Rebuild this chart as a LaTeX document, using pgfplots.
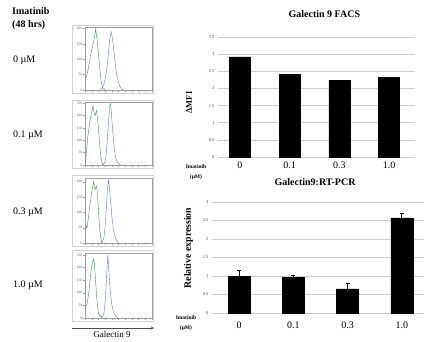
\documentclass[border=0pt]{standalone}
\usepackage{pgfplots}
\pgfplotsset{compat=1.18}
\usepackage{fontspec}
\setmainfont{Liberation Serif}
\definecolor{hgreen}{RGB}{70,140,80}
\definecolor{hblue}{RGB}{95,125,200}
\pgfplotsset{
 hist/.style={scale only axis, anchor=south west, width=67pt, xmin=0, xmax=100, ymin=0,
   axis line style={gray!75, line width=0.35pt}, tick style={gray!75, line width=0.3pt},
   xtick={0,10,20,30,40,50,60,70,80,90,100}, minor x tick num=3, xticklabels={},
   major tick length=2pt, minor tick length=1.2pt, tick align=outside,
   xtick pos=bottom, ytick pos=left,
   yticklabel style={font=\fontsize{3.5}{4}\selectfont, text=gray!70!black, inner sep=0.8pt},
   /pgf/number format/assume math mode=true,
   every axis plot/.append style={line width=0.4pt, mark=none}},
 bars/.style={scale only axis, anchor=south west, ybar, ymin=0,
   xtick={0,1,2,3}, xticklabels={0,0.1,0.3,1.0},
   ymajorgrids, grid style={gray!40, line width=0.45pt},
   axis line style={draw=none}, major tick length=0pt,
   xticklabel style={font=\fontsize{10}{12}\selectfont},
   yticklabel style={font=\fontsize{4.5}{5}\selectfont, text=gray!60!black},
   title style={font=\bfseries\fontsize{10}{12}\selectfont, anchor=south},
   ylabel style={anchor=center},
   /pgf/number format/assume math mode=true}
}
\begin{document}
\begin{tikzpicture}[x=1pt,y=1pt]
\path[use as bounding box] (0,0) rectangle (425,341);
% left texts
\node[anchor=north west, align=left, font=\bfseries\fontsize{10}{13}\selectfont, inner sep=0] at (12,334) {Imatinib\\(48 hrs)};
\node[anchor=west, font=\fontsize{10}{12}\selectfont, inner sep=0] at (13,281) {0 µM};
\node[anchor=west, font=\fontsize{10}{12}\selectfont, inner sep=0] at (13,206) {0.1 µM};
\node[anchor=west, font=\fontsize{10}{12}\selectfont, inner sep=0] at (13,129) {0.3 µM};
\node[anchor=west, font=\fontsize{10}{12}\selectfont, inner sep=0] at (13,56) {1.0 µM};
% outer frames
\draw[gray!35, line width=0.4pt] (72,248) rectangle (153,316);
\draw[gray!35, line width=0.4pt] (72,173) rectangle (153,241);
\draw[gray!35, line width=0.4pt] (72,95) rectangle (153,166);
\draw[gray!35, line width=0.4pt] (72,20) rectangle (153,91);
% panel 0
\begin{axis}[hist, at={(85pt,251pt)}, height=63pt, ymax=205, ytick={0,50,100,150,200}]
\addplot[hgreen] coordinates {(0,35)(1,38)(2,45)(3,50)(4,62)(5,70)(6,85)(7,95)(8,110)(9,118)(10,130)(11,138)(12,150)(13,158)(14,170)(15,185)(16,200)(17,178)(18,165)(19,140)(20,120)(21,95)(22,70)(23,50)(24,32)(25,20)(26,12)(27,6)(28,3)(30,0)};
\addplot[hblue] coordinates {(22,0)(24,3)(26,8)(28,18)(30,35)(32,60)(34,95)(35,120)(36,145)(37,165)(38,178)(39,190)(40,180)(41,165)(42,150)(43,130)(44,110)(45,90)(46,72)(47,55)(48,42)(50,25)(52,12)(54,6)(56,2)(58,0)};
\end{axis}
% panel 0.1
\begin{axis}[hist, at={(85pt,176pt)}, height=63pt, ymax=255, ytick={0,50,100,150,200,250}]
\addplot[hgreen] coordinates {(0,0)(1,20)(2,50)(3,80)(4,110)(5,130)(6,150)(7,170)(8,190)(9,200)(10,215)(11,225)(12,240)(13,220)(14,205)(15,200)(16,210)(17,220)(18,205)(19,180)(20,150)(21,115)(22,80)(23,50)(24,28)(25,14)(26,6)(27,2)(28,0)};
\addplot[hblue] coordinates {(26,0)(28,4)(30,15)(31,30)(32,55)(33,90)(34,130)(35,170)(36,210)(37,240)(38,250)(39,225)(40,185)(41,150)(42,115)(43,85)(44,60)(45,42)(46,28)(48,14)(50,6)(52,2)(54,0)};
\end{axis}
% panel 0.3
\begin{axis}[hist, at={(85pt,98pt)}, height=65pt, ymax=212, ytick={0,50,100,150,200}]
\addplot[hgreen] coordinates {(0,40)(1,45)(2,55)(3,50)(4,65)(5,80)(6,100)(7,118)(8,135)(9,150)(10,165)(11,178)(12,190)(13,200)(14,185)(15,175)(16,180)(17,185)(18,175)(19,145)(20,110)(21,75)(22,45)(23,25)(24,12)(25,5)(26,0)};
\addplot[hblue] coordinates {(24,0)(26,5)(28,15)(29,30)(30,55)(31,85)(32,120)(33,155)(34,185)(35,205)(36,190)(37,165)(38,140)(39,115)(40,90)(41,70)(42,52)(43,38)(44,26)(46,13)(48,5)(50,0)};
\end{axis}
% panel 1.0
\begin{axis}[hist, at={(85pt,23pt)}, height=65pt, ymax=258, ytick={0,50,100,150,200,250}]
\addplot[hgreen] coordinates {(0,40)(1,45)(2,50)(3,55)(4,70)(5,90)(6,110)(7,135)(8,160)(9,185)(10,205)(11,220)(12,230)(13,235)(14,215)(15,180)(16,140)(17,100)(18,65)(19,40)(20,22)(21,12)(22,8)(23,10)(24,6)(25,3)(26,0)};
\addplot[hblue] coordinates {(24,0)(26,5)(28,15)(29,35)(30,65)(31,105)(32,150)(33,200)(34,250)(35,215)(36,170)(37,130)(38,100)(39,75)(40,55)(41,40)(42,28)(44,15)(46,7)(48,3)(50,0)};
\end{axis}
% arrow and label
\draw[-stealth, gray!60!black, line width=0.5pt] (72,13) -- (154,13);
\node[anchor=north, font=\fontsize{9}{11}\selectfont, inner sep=0] at (112,10) {Galectin 9};
% bar chart 1
\begin{axis}[bars, at={(218pt,184pt)}, width=197pt, height=120pt, xmin=-0.44, xmax=3.52,
  ymax=3.5, ytick={0,0.5,1,1.5,2,2.5,3,3.5}, bar width=21pt,
  title={Galectin 9 FACS}, title style={at={(axis description cs:0.54,1)}, yshift=10pt},
  ylabel={ΔMFI}, ylabel style={at={(axis description cs:-0.147,0.454)}, font=\bfseries\fontsize{8.5}{9}\selectfont},
  xticklabel style={yshift=-1pt}]
\addplot[fill=black, draw=black] coordinates {(0,2.92)(1,2.42)(2,2.23)(3,2.33)};
\end{axis}
\node[align=center, font=\bfseries\fontsize{5.5}{10}\selectfont, inner sep=0] at (196,169) {Imatinib\\(µM)};
% bar chart 2
\begin{axis}[bars, at={(212pt,28pt)}, width=212pt, height=111pt, xmin=-0.5, xmax=3.41,
  ymax=3, ytick={0,0.5,1,1.5,2,2.5,3}, bar width=22pt,
  title={Galectin9:RT-PCR}, title style={at={(axis description cs:0.486,1)}, yshift=7pt},
  ylabel={Relative expression}, ylabel style={at={(axis description cs:-0.111,0.585)}, font=\bfseries\fontsize{9.8}{10}\selectfont},
  xticklabel style={yshift=-5pt}]
\addplot[fill=black, draw=black, error bars/.cd, y dir=plus, y explicit, error mark options={rotate=90, mark size=2pt, line width=0.5pt}, error bar style={line width=0.6pt}]
  coordinates {(0,1.0) +- (0,0.15) (1,0.96) +- (0,0.07) (2,0.65) +- (0,0.16) (3,2.57) +- (0,0.13)};
\end{axis}
\node[align=center, font=\bfseries\fontsize{5.5}{10}\selectfont, inner sep=0] at (186,18) {Imatinib\\(µM)};
\end{tikzpicture}
\end{document}
